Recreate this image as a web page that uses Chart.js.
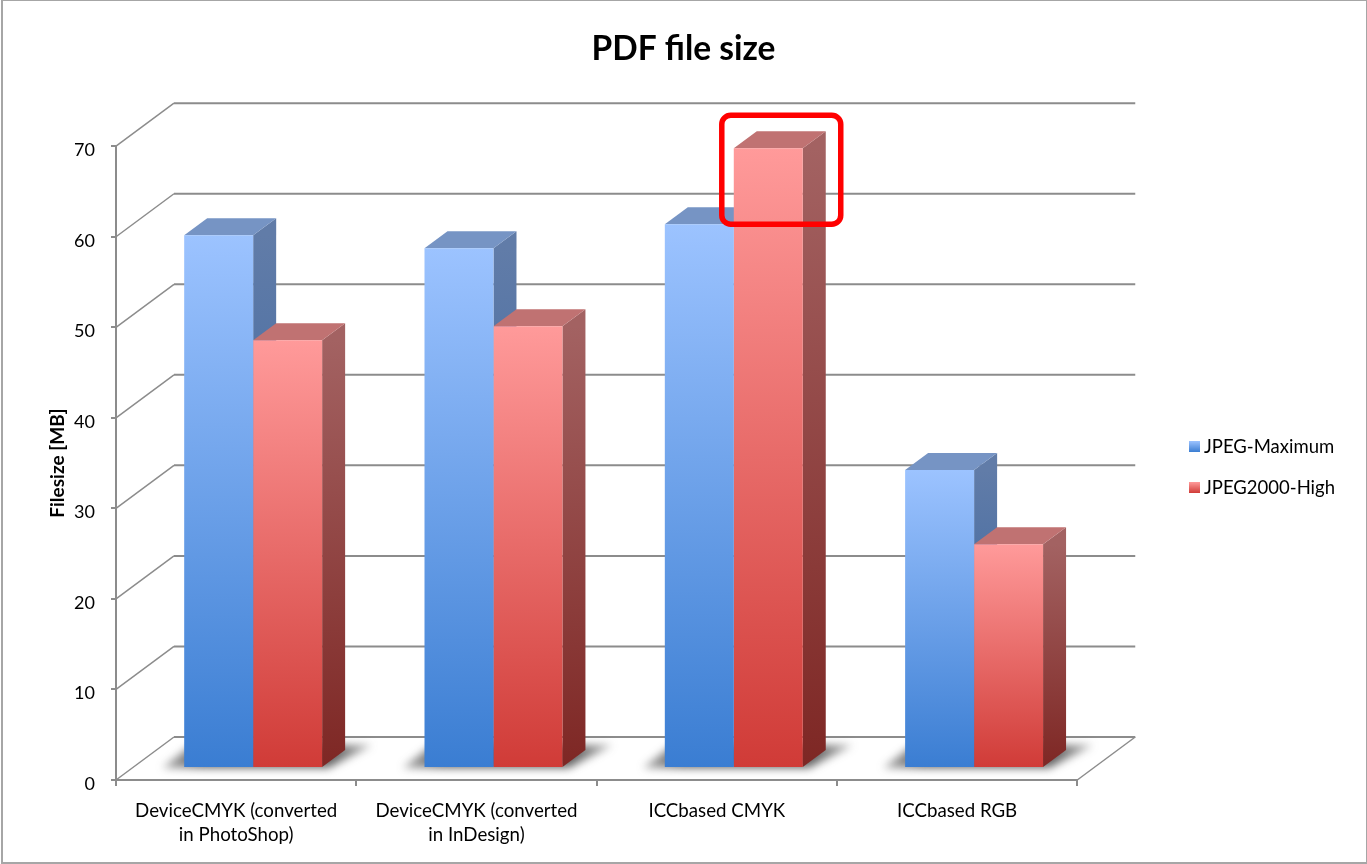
<!DOCTYPE html>
<html>
<head>
<meta charset="utf-8">
<title>PDF file size</title>
<script src="https://cdn.jsdelivr.net/npm/chart.js@4"></script>
<style>
  html, body { margin: 0; padding: 0; background: #fff; overflow: hidden; }
  #wrap { position: relative; width: 1367px; height: 864px; }
  #frame { position: absolute; left: 1px; top: 0; width: 1363px; height: 861px; border: 2px solid #a6a6a6; border-top-width: 1px; pointer-events: none; }
  canvas { display: block; }
</style>
</head>
<body>
<div id="wrap">
  <canvas id="chart" width="1367" height="864"></canvas>
  <div id="frame"></div>
</div>
<script>
const categories = [
  ["DeviceCMYK (converted", "in PhotoShop)"],
  ["DeviceCMYK (converted", "in InDesign)"],
  "ICCbased CMYK",
  "ICCbased RGB"
]
const jpegMaximum = [58.85, 57.4, 60.05, 32.9]
const jpeg2000High = [47.25, 48.8, 68.45, 24.7]
const seriesNames = ["JPEG-Maximum", "JPEG2000-High"]

const FONT = "Lato, 'Open Sans', sans-serif"
const GRID = "#8c8c8c"

// fake 3D offsets, in pixels
const WALL_X = 58, WALL_Y = 43
const BAR_SHIFT_X = 17, BAR_SHIFT_Y = 12
const DEPTH_X = 23, DEPTH_Y = 17

const palette = [
  { light: "#9cc3ff", dark: "#3a7dd2", sideLight: "#617ca8", sideDark: "#2b5c9c", top: "#7694c4" },
  { light: "#ff9a9a", dark: "#d03b37", sideLight: "#a36262", sideDark: "#7e2724", top: "#c07272" }
]

function barGradient(context) {
  const chart = context.chart
  const colors = palette[context.datasetIndex]
  if (!chart.chartArea || context.parsed === undefined) return colors.dark
  const y = chart.scales.y
  const g = chart.ctx.createLinearGradient(0, y.getPixelForValue(context.parsed.y), 0, y.getPixelForValue(0))
  g.addColorStop(0, colors.light)
  g.addColorStop(1, colors.dark)
  return g
}

function legendSwatch(colors) {
  const c = document.createElement("canvas")
  c.width = 11
  c.height = 11
  const x = c.getContext("2d")
  const g = x.createLinearGradient(0, 0, 0, 11)
  g.addColorStop(0, colors.light)
  g.addColorStop(1, colors.dark)
  x.fillStyle = g
  x.fillRect(0, 0, 11, 11)
  return c
}

function line(ctx, x1, y1, x2, y2) {
  ctx.beginPath()
  ctx.moveTo(x1, y1)
  ctx.lineTo(x2, y2)
  ctx.stroke()
}

function poly(ctx, pts) {
  ctx.beginPath()
  pts.forEach((p, i) => i ? ctx.lineTo(p[0], p[1]) : ctx.moveTo(p[0], p[1]))
  ctx.closePath()
  ctx.fill()
}

const wallPlugin = {
  id: "wall",
  afterLayout(chart) {
    // legend sits a little below the plot's middle
    chart.legend.top += 4
    chart.legend.bottom += 4
  },
  beforeDatasetsDraw(chart) {
    const ctx = chart.ctx
    const { left, right } = chart.chartArea
    const y = chart.scales.y
    ctx.save()
    ctx.strokeStyle = GRID
    y.ticks.forEach(t => {
      const py = y.getPixelForValue(t.value)
      ctx.lineWidth = 1.5
      line(ctx, left, py, left + WALL_X, py - WALL_Y)
      ctx.lineWidth = 2
      line(ctx, left + WALL_X, py - WALL_Y, right + WALL_X, py - WALL_Y)
    })
    const zero = y.getPixelForValue(0)
    ctx.lineWidth = 1.5
    line(ctx, right, zero, right + WALL_X, zero - WALL_Y)
    ctx.restore()
  }
}

const bars3dPlugin = {
  id: "bars3d",
  beforeDatasetsDraw(chart) {
    const ctx = chart.ctx
    // floor shadows first
    ctx.save()
    ctx.translate(BAR_SHIFT_X, -BAR_SHIFT_Y)
    ctx.filter = "blur(4px)"
    categories.forEach((_, i) => {
      const a = chart.getDatasetMeta(0).data[i]
      const b = chart.getDatasetMeta(1).data[i]
      const l = a.x - a.width / 2, r = b.x + b.width / 2, base = a.base
      const g = ctx.createLinearGradient(l - 24, 0, r + 52, 0)
      g.addColorStop(0, "rgba(60,60,60,0.4)")
      g.addColorStop(0.2, "rgba(60,60,60,0.8)")
      g.addColorStop(0.8, "rgba(60,60,60,0.8)")
      g.addColorStop(1, "rgba(60,60,60,0.35)")
      ctx.fillStyle = g
      poly(ctx, [[l - 22, base + 1], [r + 6, base + 1], [r + 50, base - 22], [l + 8, base - 22]])
    })
    ctx.filter = "none"
    chart.data.datasets.forEach((ds, d) => {
      const colors = palette[d]
      chart.getDatasetMeta(d).data.forEach(el => {
        const l = el.x - el.width / 2, r = el.x + el.width / 2
        const t = el.y, b = el.base
        const g = ctx.createLinearGradient(0, t, 0, b)
        g.addColorStop(0, colors.sideLight)
        g.addColorStop(1, colors.sideDark)
        ctx.fillStyle = g
        poly(ctx, [[r, t], [r + DEPTH_X, t - DEPTH_Y], [r + DEPTH_X, b - DEPTH_Y], [r, b]])
        ctx.fillStyle = colors.top
        poly(ctx, [[l, t], [l + DEPTH_X, t - DEPTH_Y], [r + DEPTH_X, t - DEPTH_Y], [r, t]])
      })
    })
    ctx.restore()
    // the fronts are drawn by the bar elements, moved back onto the floor
    ctx.save()
    ctx.translate(BAR_SHIFT_X, -BAR_SHIFT_Y)
  },
  afterDatasetsDraw(chart) {
    const ctx = chart.ctx
    ctx.restore()
    // red highlight round the biggest bar
    const el = chart.getDatasetMeta(1).data[2]
    const l = el.x - el.width / 2 + BAR_SHIFT_X, r = el.x + el.width / 2 + BAR_SHIFT_X
    const t = el.y - BAR_SHIFT_Y
    ctx.save()
    ctx.strokeStyle = "#ff0000"
    ctx.lineWidth = 5.5
    ctx.beginPath()
    ctx.roundRect(l - 12, t - 33, r - l + 50, 109, 9)
    ctx.stroke()
    ctx.restore()
  }
}

new Chart(document.getElementById("chart"), {
  type: "bar",
  data: {
    labels: categories,
    datasets: [
      { label: seriesNames[0], data: jpegMaximum, backgroundColor: barGradient, pointStyle: legendSwatch(palette[0]) },
      { label: seriesNames[1], data: jpeg2000High, backgroundColor: barGradient, pointStyle: legendSwatch(palette[1]) }
    ]
  },
  plugins: [wallPlugin, bars3dPlugin],
  options: {
    responsive: false,
    animation: false,
    devicePixelRatio: 1,
    categoryPercentage: 0.574,
    barPercentage: 1,
    layout: { padding: { left: 22, right: 22, top: 0, bottom: 0 } },
    plugins: {
      title: {
        display: true,
        text: "PDF file size",
        color: "#000",
        font: { family: FONT, size: 33.5, weight: "bold" },
        padding: { top: 29, bottom: 77 }
      },
      legend: {
        position: "right",
        fullSize: false,
        labels: {
          usePointStyle: true,
          pointStyleWidth: 1,
          boxWidth: 11,
          boxHeight: 11,
          padding: 22.5,
          color: "#000",
          font: { family: FONT, size: 18.5 }
        }
      },
      tooltip: { enabled: false }
    },
    scales: {
      x: {
        grid: { drawOnChartArea: false, color: GRID, tickLength: 6, lineWidth: 2 },
        border: { color: GRID, width: 2 },
        ticks: { color: "#000", font: { family: FONT, size: 18.7, lineHeight: 1.3 }, padding: 13, maxRotation: 0, autoSkip: false },
        afterFit(s) { s.height = 84 }
      },
      y: {
        min: 0,
        max: 70,
        ticks: { stepSize: 10, color: "#000", font: { family: FONT, size: 18 }, padding: 16, labelOffset: 4 },
        grid: { drawOnChartArea: false, color: GRID, tickLength: 5, lineWidth: 2 },
        border: { color: GRID, width: 2 },
        title: {
          display: true,
          text: "Filesize [MB]",
          color: "#000",
          font: { family: FONT, size: 19, weight: "bold" },
          padding: { top: 24, bottom: 0 }
        },
        afterFit(s) { s.width = 94 }
      },
      // empty axis: only keeps the gap between the plot and the legend
      gap: {
        position: "right",
        display: true,
        min: 0,
        max: 1,
        grid: { display: false },
        border: { display: false },
        ticks: { display: false },
        afterFit(s) { s.width = 94 }
      }
    }
  }
})
</script>
</body>
</html>
